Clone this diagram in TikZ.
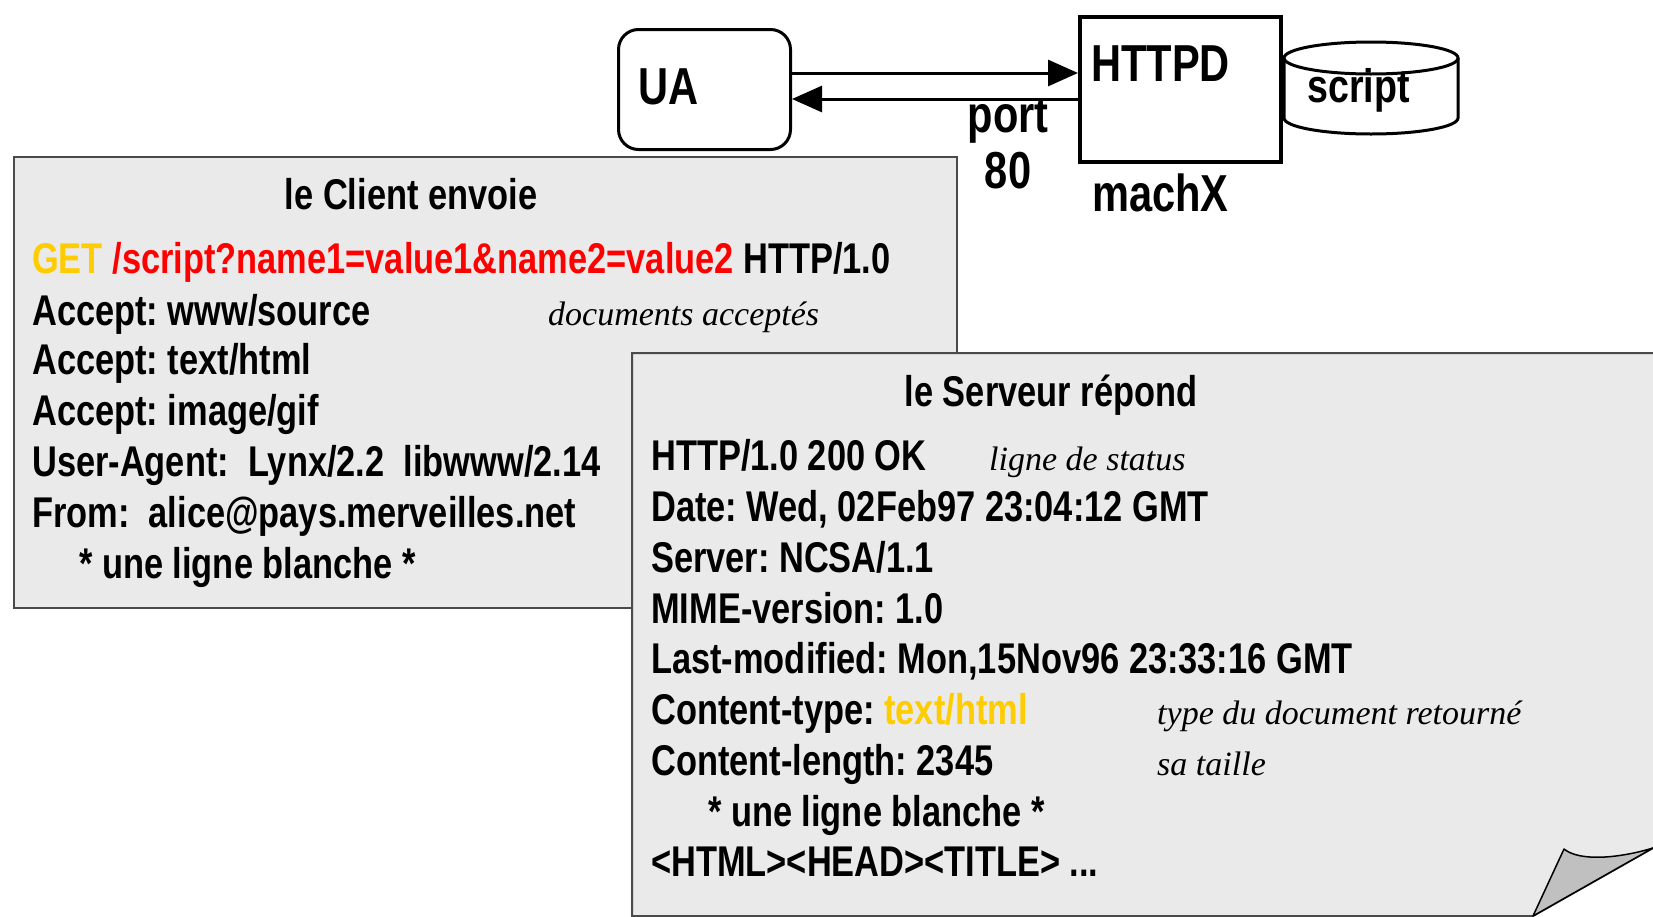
\documentclass[tikz,border=0pt]{standalone}
\usepackage{fontspec}
\setmainfont{Liberation Sans Bold}[FakeStretch=0.8]
\newfontfamily\cmtfont{Liberation Serif}[UprightFont=*-Italic]
\usetikzlibrary{arrows.meta}
\definecolor{boxgray}{HTML}{EAEAEA}
\definecolor{edgegray}{HTML}{4A4A4A}
\definecolor{flapgray}{HTML}{C0C0C0}
\definecolor{getyellow}{HTML}{FFCC00}
\definecolor{urlred}{HTML}{FF0000}
\tikzset{
  big/.style={inner sep=0pt, font=\fontsize{52}{56}\selectfont},
  body/.style={inner sep=0pt, anchor=base west, font=\fontsize{43}{51}\selectfont},
  ttl/.style={inner sep=0pt, anchor=base, font=\fontsize{43}{51}\selectfont},
  cmt/.style={inner sep=0pt, anchor=base west, font=\cmtfont\fontsize{34}{40}\selectfont},
  panel/.style={fill=boxgray, draw=edgegray, line width=2pt},
  arr/.style={line width=3pt, -{Triangle[length=30pt,width=26pt]}},
}
\begin{document}
\frenchspacing
\begin{tikzpicture}[x=1pt,y=-1pt]
\useasboundingbox (0,0) rectangle (1653,916);
\fill[white] (0,0) rectangle (1653,916);
% top part
\node[draw, line width=3pt, rounded corners=20pt, minimum width=172pt, minimum height=120pt, anchor=north west, inner sep=0pt] (ua) at (617,28) {};
\node[big, anchor=base west] (ualbl) at (638,104) {UA};
\node[draw, line width=4pt, minimum width=201pt, minimum height=145pt, anchor=north west, inner sep=0pt] (httpd) at (1078,15) {};
\node[big, anchor=base west] (httpdlbl) at (1091,81) {HTTPD};
\node[big, anchor=base west] (machx) at (1092,211) {machX};
\node[big, anchor=base] (port) at (1008,132) {port};
\node[big, anchor=base] (eighty) at (1008,188) {80};
\coordinate (ytop) at (0,73);
\coordinate (ybot) at (0,99);
\draw[arr] (ua.east |- ytop) -- (httpd.west |- ytop);
\draw[arr] (httpd.west |- ybot) -- (ua.east |- ybot);
% cylinder
\draw[line width=3pt, fill=white] (1284,58) -- (1284,118) arc[start angle=180, end angle=360, x radius=87pt, y radius=16pt] -- (1458,58);
\draw[line width=3pt] (1371,58) ellipse [x radius=87pt, y radius=16pt];
\node[big, anchor=base west, font=\fontsize{47}{52}\selectfont] (script) at (1307,102) {script};
% client panel
\node[panel, minimum width=943pt, minimum height=451pt, anchor=north west, inner sep=0pt] (client) at (13,156) {};
\node[ttl] (ctitle) at (411,209) {le Client envoie};
\node[body] (c1) at (32,273) {\textcolor{getyellow}{GET} \textcolor{urlred}{/script?name1=value1\&name2=value2} HTTP/1.0};
\node[body] (c2) at (32,325) {Accept: www/source};
\node[cmt] (c2c) at (548,325) {documents acceptés};
\node[body] (c3) at (32,374) {Accept: text/html};
\node[body] (c4) at (32,425) {Accept: image/gif};
\node[body] (c5) at (32,476) {User-Agent:\ \ Lynx/2.2\ \ libwww/2.14};
\node[body] (c6) at (32,527) {From:\ \ alice@pays.merveilles.net};
\node[body] (c7) at (79,578) {* une ligne blanche *};
% server panel
\draw[panel] (632,353) -- (1660,353) -- (1660,848) -- (1653,848) -- (1533,916) -- (632,916) -- cycle;
\draw[line width=1.5pt, fill=flapgray, line join=round] (1533,916) -- (1564,849) .. controls (1580,862) and (1620,858) .. (1653,848) -- cycle;
\node[ttl] (stitle) at (1051,406) {le Serveur répond};
\node[body] (s1) at (651,470) {HTTP/1.0 200 OK};
\node[cmt] (s1c) at (989,470) {ligne de status};
\node[body] (s2) at (651,521) {Date: Wed, 02Feb97 23:04:12 GMT};
\node[body] (s3) at (651,572) {Server: NCSA/1.1};
\node[body] (s4) at (651,623) {MIME-version: 1.0};
\node[body] (s5) at (651,673) {Last-modified: Mon,15Nov96 23:33:16 GMT};
\node[body] (s6) at (651,724) {Content-type: \textcolor{getyellow}{text/html}};
\node[cmt] (s6c) at (1157,724) {type du document retourné};
\node[body] (s7) at (651,775) {Content-length: 2345};
\node[cmt] (s7c) at (1157,775) {sa taille};
\node[body] (s8) at (708,826) {* une ligne blanche *};
\node[body] (s9) at (651,876) {<HTML><HEAD><TITLE> ...};
\end{tikzpicture}
\end{document}
